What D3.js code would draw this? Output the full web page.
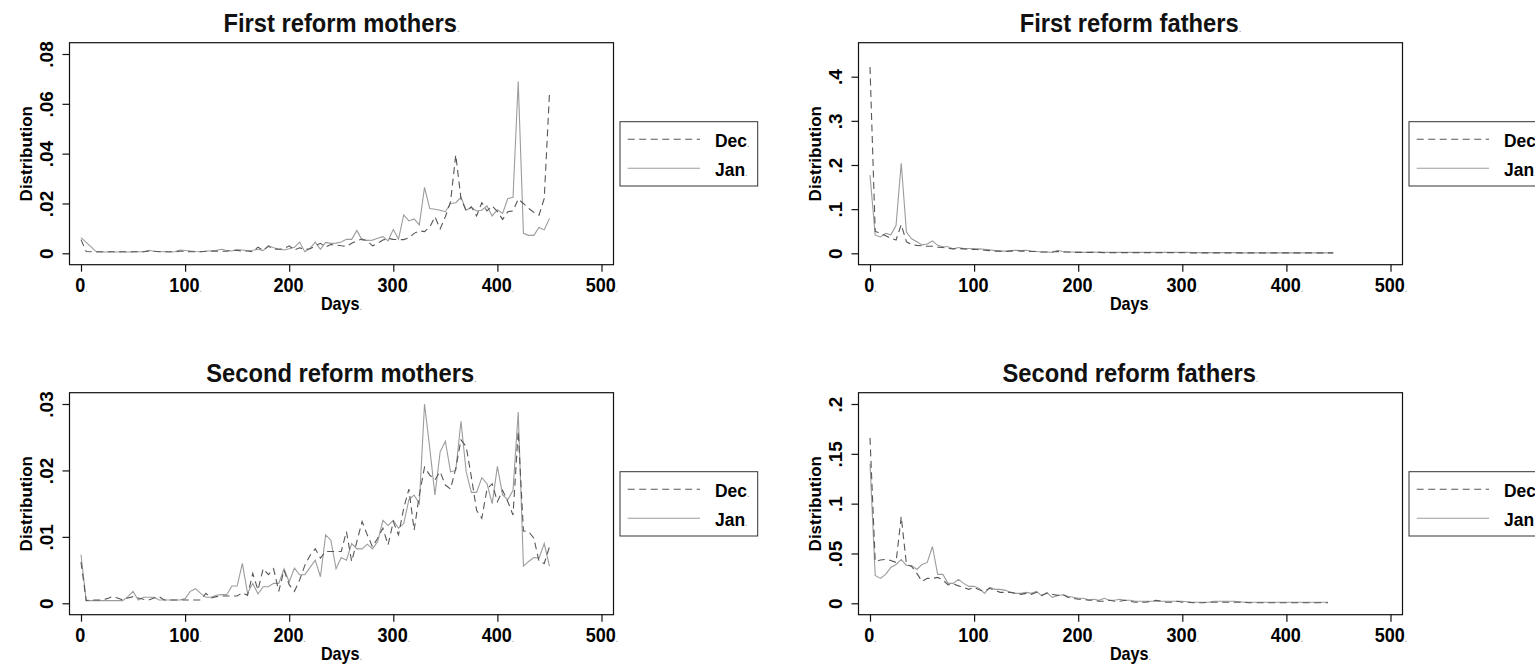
<!DOCTYPE html>
<html>
<head>
<meta charset="utf-8">
<script src="https://cdn.jsdelivr.net/npm/d3@7"></script>
<style>
  body { margin: 0; background: #fff; }
  text { font-family: "Liberation Sans", Arial, Helvetica, sans-serif; }
</style>
</head>
<body>
<div id="chart"></div>
<script>
// days since birth, 5-day bins
var days = [0,5,10,15,20,25,30,35,40,45,50,55,60,65,70,75,80,85,90,95,
   100,105,110,115,120,125,130,135,140,145,150,155,160,165,170,175,180,185,190,195,
   200,205,210,215,220,225,230,235,240,245,250,255,260,265,270,275,280,285,290,295,
   300,305,310,315,320,325,330,335,340,345,350,355,360,365,370,375,380,385,390,395,
   400,405,410,415,420,425,430,435,440,445,450];

// First reform mothers
var m1Dec = [.0055,.0007,.0006,.0006,.0006,.0006,.0006,.0006,.0006,.0006,.0006,.0006,.0006,.0008,.0008,.0006,.0006,.0006,.0006,.0008,
   .0008,.0006,.0006,.0006,.0008,.0008,.0009,.0008,.0008,.0013,.0011,.0009,.0009,.0006,.0025,.0012,.0028,.0017,.0016,.0018,
   .0030,.0013,.0022,.0015,.0018,.0030,.0040,.0025,.0035,.0033,.0030,.0028,.0040,.0050,.0057,.0050,.0030,.0040,.0053,.0060,
   .0056,.0055,.0055,.0062,.0080,.0090,.0087,.0105,.0147,.0098,.0147,.0207,.0395,.0220,.0170,.0187,.0150,.0203,.0170,.0190,
   .0167,.0136,.0167,.0170,.0218,.0200,.0180,.0165,.0153,.0220,.0640];
var m1Jan = [.0063,.0044,.0025,.0005,.0005,.0005,.0005,.0005,.0005,.0005,.0005,.0006,.0006,.0012,.0008,.0007,.0006,.0005,.0006,.0013,
   .0011,.0009,.0007,.0006,.0008,.0010,.0012,.0016,.0011,.0009,.0015,.0013,.0010,.0012,.0016,.0011,.0031,.0022,.0017,.0013,
   .0018,.0024,.0045,.0006,.0020,.0045,.0016,.0044,.0040,.0041,.0045,.0056,.0056,.0092,.0053,.0052,.0053,.0060,.0067,.0050,
   .0096,.0057,.0154,.0130,.0138,.0114,.0265,.0180,.0177,.0173,.0167,.0200,.0203,.0225,.0173,.0184,.0170,.0173,.0190,.0150,
   .0175,.0160,.0220,.0225,.0690,.0080,.0072,.0072,.0104,.0094,.0140];

// First reform fathers (0-445)
var f1Dec = [.422,.050,.045,.040,.034,.030,.065,.026,.020,.018,.017,.016,.016,.014,.013,.011,.010,.011,.010,.009,
   .009,.008,.007,.006,.005,.005,.004,.005,.006,.005,.005,.004,.004,.003,.003,.003,.004,.003,.003,.002,
   .002,.002,.002,.002,.002,.0015,.0015,.0015,.0015,.0015,.0015,.0015,.0015,.0015,.0015,.0015,.0015,.0015,.0015,.0015,
   .0015,.001,.001,.001,.001,.001,.001,.001,.001,.001,.001,.001,.001,.001,.001,.001,.001,.001,.001,.001,
   .001,.001,.001,.001,.001,.001,.001,.001,.001,.001];
var f1Jan = [.177,.041,.037,.045,.042,.063,.204,.048,.033,.026,.019,.021,.028,.018,.015,.015,.010,.013,.011,.011,
   .010,.010,.009,.008,.006,.005,.005,.006,.007,.006,.007,.005,.004,.003,.003,.002,.007,.004,.003,.003,
   .003,.002,.002,.003,.002,.002,.002,.002,.002,.0025,.002,.002,.002,.002,.002,.002,.002,.002,.002,.002,
   .0025,.002,.0015,.0015,.0015,.0015,.0015,.0015,.0015,.0015,.0015,.001,.001,.001,.001,.001,.001,.001,.001,.001,
   .001,.001,.001,.001,.001,.001,.001,.001,.001,.001];

// Second reform mothers
var m2Dec = [.0062,.0004,.0005,.0005,.0005,.0007,.0010,.0008,.0005,.0008,.0010,.0008,.0006,.0005,.0008,.0010,.0005,.0005,.0005,.0005,
   .0005,.0005,.0005,.0005,.0015,.0008,.0010,.0011,.0011,.0011,.0011,.0016,.0012,.0045,.0020,.0052,.0043,.0052,.0018,.0050,
   .0028,.0018,.0035,.0057,.0072,.0082,.0068,.0078,.0078,.0078,.0078,.0108,.0063,.0093,.0123,.0103,.0085,.0098,.0113,.0088,
   .0123,.0103,.0143,.0172,.0110,.0163,.0205,.0193,.0186,.0198,.0178,.0172,.0203,.0246,.0236,.0190,.0140,.0128,.0172,.0180,
   .0153,.0170,.0153,.0133,.0259,.0109,.0108,.0098,.0063,.0060,.0085];
var m2Jan = [.0073,.0004,.0004,.0004,.0004,.0004,.0004,.0004,.0004,.0010,.0018,.0005,.0009,.0009,.0009,.0005,.0005,.0005,.0005,.0005,
   .0007,.0018,.0022,.0015,.0009,.0009,.0012,.0013,.0013,.0026,.0026,.0060,.0015,.0030,.0014,.0025,.0025,.0030,.0030,.0052,
   .0032,.0053,.0043,.0043,.0054,.0065,.0040,.0103,.0095,.0052,.0069,.0065,.0090,.0082,.0082,.0089,.0082,.0093,.0125,.0117,
   .0125,.0113,.0120,.0156,.0163,.0150,.0300,.0234,.0163,.0228,.0244,.0198,.0200,.0274,.0198,.0167,.0167,.0189,.0180,.0150,
   .0206,.0163,.0156,.0170,.0288,.0056,.0063,.0069,.0068,.0090,.0056];

// Second reform fathers (0-440)
var f2Dec = [.166,.042,.0435,.044,.043,.041,.087,.039,.037,.030,.022,.025,.025,.026,.0235,.0185,.0195,.0175,.016,.014,
   .016,.0135,.012,.015,.013,.011,.011,.011,.010,.009,.010,.009,.011,.008,.010,.009,.008,.009,.006,.005,
   .004,.004,.003,.003,.002,.002,.003,.002,.002,.003,.002,.001,.001,.001,.002,.003,.002,.001,.001,.002,
   .001,.001,.0005,.0005,.0005,.001,.001,.001,.001,.001,.001,.001,.001,.0005,.0005,.0005,.0005,.0005,.0005,.0005,
   .0005,.0005,.0005,.0005,.0005,.0005,.0005,.0005,.0005];
var f2Jan = [.140,.028,.025,.029,.036,.039,.044,.038,.038,.034,.039,.041,.057,.029,.029,.020,.020,.024,.020,.017,
   .017,.015,.010,.016,.014,.014,.013,.011,.010,.010,.011,.010,.012,.0075,.011,.006,.0075,.0085,.007,.006,
   .005,.005,.0035,.004,.003,.005,.003,.003,.004,.003,.003,.002,.002,.002,.002,.002,.002,.002,.002,.002,
   .002,.0015,.001,.001,.001,.001,.002,.002,.002,.002,.002,.0015,.001,.001,.001,.001,.001,.001,.001,.001,
   .001,.001,.001,.001,.001,.001,.001,.001,.001];

var titles = ["First reform mothers", "First reform fathers", "Second reform mothers", "Second reform fathers"];
var xTicks = [0, 100, 200, 300, 400, 500];
var yTicks = [[0, .02, .04, .06, .08], [0, .1, .2, .3, .4], [0, .01, .02, .03], [0, .05, .1, .15, .2]];
var yTickLabels = [["0", ".02", ".04", ".06", ".08"], ["0", ".1", ".2", ".3", ".4"],
   ["0", ".01", ".02", ".03"], ["0", ".05", ".1", ".15", ".2"]];
var yTops = [.08, .4514, .03, .2];
var legendLabels = ["Dec", "Jan"];
var series = [[m1Dec, m1Jan], [f1Dec, f1Jan], [m2Dec, m2Jan], [f2Dec, f2Jan]];

var W = 1535, H = 668;
var colStep = 789, rowStep = 350;
var box = {left: 69.5, right: 613.5, top: 42.7, bottom: 264.7};
var decColor = '#575757', janColor = '#9c9c9c';

var svg = d3.select('#chart').append('svg')
   .attr('width', W).attr('height', H)
   .style('display', 'block');

// the trailing small grey dot the original export puts after labels
function addDot(sel){
   sel.append('tspan')
      .attr('fill', '#8a8a8a')
      .attr('font-size', '10px')
      .attr('font-weight', 'normal')
      .text('.');
}

series.forEach(function(pair, p){
   var g = svg.append('g')
      .attr('transform', 'translate(' + (p % 2) * colStep + ',' + Math.floor(p / 2) * rowStep + ')');

   var x = d3.scaleLinear().domain([0, 500]).range([81, 601.5]);
   var y = d3.scaleLinear().domain([0, yTops[p]]).range([253.3, 54]);
   var cx = (box.left + box.right) / 2;

   // plot frame
   g.append('rect')
      .attr('x', box.left).attr('y', box.top)
      .attr('width', box.right - box.left).attr('height', box.bottom - box.top)
      .attr('fill', '#fff').attr('stroke', '#111').attr('stroke-width', 1.2);

   // lines
   var line = d3.line()
      .x(function(d, i){ return x(days[i]); })
      .y(function(d){ return y(d); });

   g.append('path').datum(pair[1])
      .attr('d', line)
      .attr('fill', 'none').attr('stroke', janColor).attr('stroke-width', 1.1);
   g.append('path').datum(pair[0])
      .attr('d', line)
      .attr('fill', 'none').attr('stroke', decColor).attr('stroke-width', 1.1)
      .attr('stroke-dasharray', '7,4.5');

   // x axis
   var xAxis = g.append('g')
      .attr('transform', 'translate(0,' + box.bottom + ')')
      .call(d3.axisBottom(x).tickValues(xTicks).tickSize(7).tickSizeOuter(0).tickPadding(5));
   xAxis.select('.domain').remove();
   xAxis.selectAll('line').attr('stroke', '#111').attr('stroke-width', 1.2);
   xAxis.selectAll('text')
      .attr('font-size', '21px').attr('font-weight', 'bold').attr('fill', '#000')
      .attr('font-family', null)
      .attr('transform', 'scale(0.86,1)')
      .each(function(){ addDot(d3.select(this)); });

   // y axis
   var yAxis = g.append('g')
      .attr('transform', 'translate(' + box.left + ',0)')
      .call(d3.axisLeft(y).tickValues(yTicks[p]).tickSize(7).tickSizeOuter(0)
         .tickFormat(function(d, i){ return yTickLabels[p][i]; }));
   yAxis.select('.domain').remove();
   yAxis.selectAll('line').attr('stroke', '#111').attr('stroke-width', 1.2);
   yAxis.selectAll('text')
      .attr('x', null).attr('dy', null)
      .attr('text-anchor', 'middle')
      .attr('transform', 'translate(-16.2,0) rotate(-90)')
      .attr('font-size', '19px').attr('font-weight', 'bold').attr('fill', '#000')
      .attr('font-family', null);

   // titles
   var title = g.append('text')
      .attr('transform', 'translate(' + cx + ',31.7) scale(0.95,1)')
      .attr('text-anchor', 'middle')
      .attr('font-size', '25px').attr('font-weight', 'bold').attr('fill', '#111')
      .text(titles[p]);
   addDot(title);

   var xt = g.append('text')
      .attr('transform', 'translate(' + cx + ',310) scale(0.9,1)')
      .attr('text-anchor', 'middle')
      .attr('font-size', '18px').attr('font-weight', 'bold')
      .text('Days');
   addDot(xt);

   g.append('text')
      .attr('transform', 'translate(31.5,' + (box.top + box.bottom) / 2 + ') rotate(-90)')
      .attr('text-anchor', 'middle')
      .attr('font-size', '17px').attr('font-weight', 'bold')
      .text('Distribution');

   // legend
   var lg = g.append('g').attr('transform', 'translate(620,121.7)');
   lg.append('rect')
      .attr('width', 137.7).attr('height', 64.3)
      .attr('fill', '#fff').attr('stroke', '#333').attr('stroke-width', 1);
   legendLabels.forEach(function(lab, k){
      var ly = 17.6 + k * 29;
      lg.append('line')
         .attr('x1', 7.7).attr('x2', 80).attr('y1', ly).attr('y2', ly)
         .attr('stroke', k === 0 ? decColor : janColor).attr('stroke-width', 1.1)
         .attr('stroke-dasharray', k === 0 ? '7,4.5' : null);
      var t = lg.append('text')
         .attr('transform', 'translate(95,' + (ly + 7.5) + ') scale(0.92,1)')
         .attr('font-size', '19px').attr('font-weight', 'bold')
         .text(lab);
      addDot(t);
   });
});
</script>
</body>
</html>
